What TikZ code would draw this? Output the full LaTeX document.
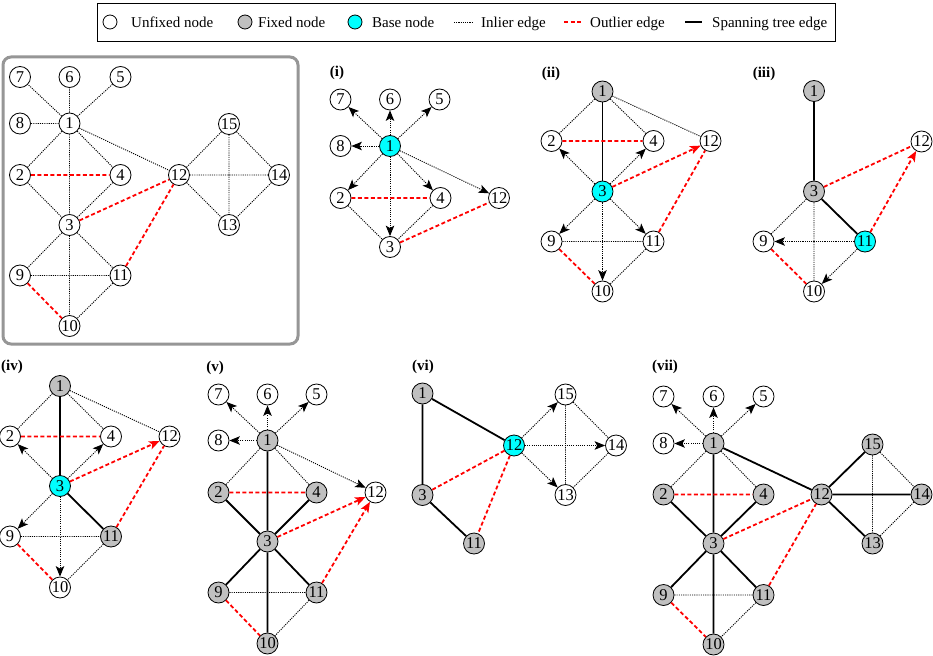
\documentclass[tikz,border=0pt]{standalone}
\usepackage{fontspec}
\setmainfont{Liberation Serif}
\usetikzlibrary{arrows.meta}
\definecolor{fixgray}{RGB}{192,192,192}
\definecolor{basecyan}{RGB}{0,255,255}
\definecolor{boxgray}{RGB}{150,150,150}
\begin{document}
\begin{tikzpicture}[x=1pt,y=-1pt,
  nd/.style={circle,draw,line width=0.8pt,minimum size=21pt,inner sep=0pt,font=\fontsize{16.5}{16.5}\selectfont},
  un/.style={nd,fill=white},
  fx/.style={nd,fill=fixgray},
  bs/.style={nd,fill=basecyan},
  inl/.style={line width=0.9pt,dash pattern=on 1.1pt off 1.1pt},
  outl/.style={red,line width=1.8pt,dash pattern=on 4pt off 2.5pt},
  span/.style={line width=1.8pt},
  arr/.style={-{Stealth[length=10.5pt,width=8.5pt,inset=2.5pt]}},
  lbl/.style={font=\bfseries\fontsize{15}{15}\selectfont,inner sep=0pt},
  lg/.style={circle,draw,line width=0.8pt,minimum size=14pt,inner sep=0pt},
  lt/.style={anchor=base west,inner sep=0pt,font=\fontsize{15}{15}\selectfont}
]
\useasboundingbox (0,0) rectangle (933,655);
\fill[white] (0,0) rectangle (933,655);

% ---------- legend ----------
\draw[line width=0.8pt] (97,3) rectangle (835,41);
\node[lg,fill=white] (l1) at (110,22) {};
\node[lt] (t1) at (131,27.5) {Unfixed node};
\node[lg,fill=fixgray] (l2) at (245,22) {};
\node[lt] (t2) at (258,27.5) {Fixed node};
\node[lg,fill=basecyan] (l3) at (355,22) {};
\node[lt] (t3) at (372,27.5) {Base node};
\coordinate (la) at (454,22); \coordinate (lb) at (473,22);
\draw[inl] (la)--(lb);
\node[lt] (t4) at (481,27.5) {Inlier edge};
\coordinate (lc) at (564,22); \coordinate (ld) at (582,22);
\draw[outl] (lc)--(ld);
\node[lt] (t5) at (590,27.5) {Outlier edge};
\coordinate (le) at (685,22); \coordinate (lf) at (702,22);
\draw[span] (le)--(lf);
\node[lt] (t6) at (712,27.5) {Spanning tree edge};

% ---------- main graph ----------
\draw[boxgray,line width=3pt,rounded corners=8pt] (3,57) rectangle (298,344);
\foreach \n/\x/\y in {7/20/77,6/69.5/77,5/120.5/77,8/20/123.5,1/69.5/123.5,2/20/175,4/120.5/175,12/179/175,15/229/124,14/279/175,13/229/225,3/69.5/225,9/20/275.5,11/120.5/275.5,10/69.5/326}
  \node[un] (m\n) at (\x,\y) {\n};
\draw[inl] (m1)--(m7) (m1)--(m6) (m1)--(m5) (m1)--(m8) (m1)--(m2) (m1)--(m3) (m1)--(m4) (m1)--(m12)
  (m2)--(m3) (m4)--(m3) (m3)--(m9) (m3)--(m11) (m3)--(m10) (m9)--(m11) (m11)--(m10)
  (m12)--(m15) (m12)--(m14) (m12)--(m13) (m15)--(m14) (m15)--(m13) (m14)--(m13);
\draw[outl] (m2)--(m4) (m3)--(m12) (m11)--(m12) (m9)--(m10);

% ---------- (i) ----------
\node[lbl] (Li) at (337,73) {(i)};
\foreach \n/\x/\y in {7/340.5/99.5,6/390/99.5,5/439.5/99.5,8/340.5/146,2/340.5/198,4/440.5/198,12/499/198,3/390/247}
  \node[un] (a\n) at (\x,\y) {\n};
\node[bs] (a1) at (390,146) {1};
\foreach \t in {7,6,5,8,2,4,3,12} \draw[inl,arr] (a1)--(a\t);
\draw[inl] (a2)--(a3) (a4)--(a3);
\draw[outl] (a2)--(a4) (a3)--(a12);

% ---------- (ii) ----------
\node[lbl] (Lii) at (551,74) {(ii)};
\node[fx] (b1) at (602.5,91.5) {1};
\foreach \n/\x/\y in {2/551.5/141,4/653.5/141,12/710.5/141,9/551.5/241.5,11/653.5/241.5,10/602.5/291.5}
  \node[un] (b\n) at (\x,\y) {\n};
\node[bs] (b3) at (602.5,191.5) {3};
\draw[span] (b1)--(b3);
\draw[inl] (b1)--(b2) (b1)--(b4) (b1)--(b12) (b9)--(b11) (b11)--(b10);
\foreach \t in {2,4,9,10,11} \draw[inl,arr] (b3)--(b\t);
\draw[outl,arr] (b3)--(b12);
\draw[outl] (b2)--(b4) (b11)--(b12) (b9)--(b10);

% ---------- (iii) ----------
\node[lbl] (Liii) at (764,74) {(iii)};
\node[fx] (c1) at (814,91) {1};
\node[fx] (c3) at (814,191.5) {3};
\node[un] (c12) at (921.5,141.5) {12};
\node[un] (c9) at (763.5,241.5) {9};
\node[bs] (c11) at (865,241.5) {11};
\node[un] (c10) at (814,291.5) {10};
\draw[span] (c1)--(c3) (c3)--(c11);
\draw[inl] (c3)--(c9) (c3)--(c10);
\draw[inl,arr] (c11)--(c9);
\draw[inl,arr] (c11)--(c10);
\draw[outl] (c3)--(c12) (c9)--(c10);
\draw[outl,arr] (c11)--(c12);

% ---------- (iv) ----------
\node[lbl] (Liv) at (12,367) {(iv)};
\node[fx] (d1) at (60,386) {1};
\foreach \n/\x/\y in {2/10/436.5,4/111/436.5,12/169.5/436.5,9/10/536.5,10/60/587.5}
  \node[un] (d\n) at (\x,\y) {\n};
\node[bs] (d3) at (60,486) {3};
\node[fx] (d11) at (111,536.5) {11};
\draw[span] (d1)--(d3) (d3)--(d11);
\draw[inl] (d1)--(d2) (d1)--(d4) (d1)--(d12) (d9)--(d11) (d11)--(d10);
\foreach \t in {2,4,9,10} \draw[inl,arr] (d3)--(d\t);
\draw[outl,arr] (d3)--(d12);
\draw[outl] (d2)--(d4) (d11)--(d12) (d9)--(d10);

% ---------- (v) ----------
\node[lbl] (Lv) at (215,368) {(v)};
\foreach \n/\x/\y in {7/218.5/394.5,6/267.5/394.5,5/316.5/394.5,8/218.5/440.5,12/375.5/492.5}
  \node[un] (e\n) at (\x,\y) {\n};
\foreach \n/\x/\y in {1/267.5/440.5,2/218.5/492.5,4/316.5/492.5,3/267.5/541.5,9/218.5/592.5,11/316.5/592.5,10/267.5/643.5}
  \node[fx] (e\n) at (\x,\y) {\n};
\foreach \t in {7,6,5,8,12} \draw[inl,arr] (e1)--(e\t);
\draw[inl] (e1)--(e2) (e1)--(e4) (e9)--(e11) (e11)--(e10);
\draw[span] (e1)--(e3) (e2)--(e3) (e4)--(e3) (e3)--(e9) (e3)--(e11) (e3)--(e10);
\draw[outl] (e2)--(e4) (e9)--(e10);
\draw[outl,arr] (e3)--(e12);
\draw[outl,arr] (e11)--(e12);

% ---------- (vi) ----------
\node[lbl] (Lvi) at (423,367) {(vi)};
\node[fx] (f1) at (422.5,393.5) {1};
\node[fx] (f3) at (422.5,495) {3};
\node[fx] (f11) at (474,543.5) {11};
\node[bs] (f12) at (514,445.5) {12};
\node[un] (f15) at (565.5,394.5) {15};
\node[un] (f14) at (616,445.5) {14};
\node[un] (f13) at (565.5,495) {13};
\draw[span] (f1)--(f12) (f1)--(f3) (f3)--(f11);
\draw[outl] (f12)--(f3) (f12)--(f11);
\foreach \t in {15,14,13} \draw[inl,arr] (f12)--(f\t);
\draw[inl] (f15)--(f14) (f15)--(f13) (f14)--(f13);

% ---------- (vii) ----------
\node[lbl] (Lvii) at (665,367) {(vii)};
\foreach \n/\x/\y in {7/663.5/396.5,6/713.5/396.5,5/763.5/396.5,8/663.5/443.5}
  \node[un] (g\n) at (\x,\y) {\n};
\foreach \n/\x/\y in {1/713.5/443.5,2/663.5/494.5,4/763.5/494.5,12/821.5/494.5,15/872.5/444.5,14/921.5/494.5,13/872.5/543.5,3/713.5/543.5,9/663.5/595,11/763.5/595,10/713.5/644.5}
  \node[fx] (g\n) at (\x,\y) {\n};
\foreach \t in {7,6,5,8} \draw[inl,arr] (g1)--(g\t);
\draw[inl] (g1)--(g2) (g1)--(g4) (g9)--(g11) (g11)--(g10) (g15)--(g14) (g15)--(g13) (g14)--(g13);
\draw[span] (g1)--(g12) (g1)--(g3) (g2)--(g3) (g4)--(g3) (g3)--(g9) (g3)--(g11) (g3)--(g10)
  (g12)--(g15) (g12)--(g14) (g12)--(g13);
\draw[outl] (g2)--(g4) (g3)--(g12) (g11)--(g12) (g9)--(g10);
\end{tikzpicture}
\end{document}
